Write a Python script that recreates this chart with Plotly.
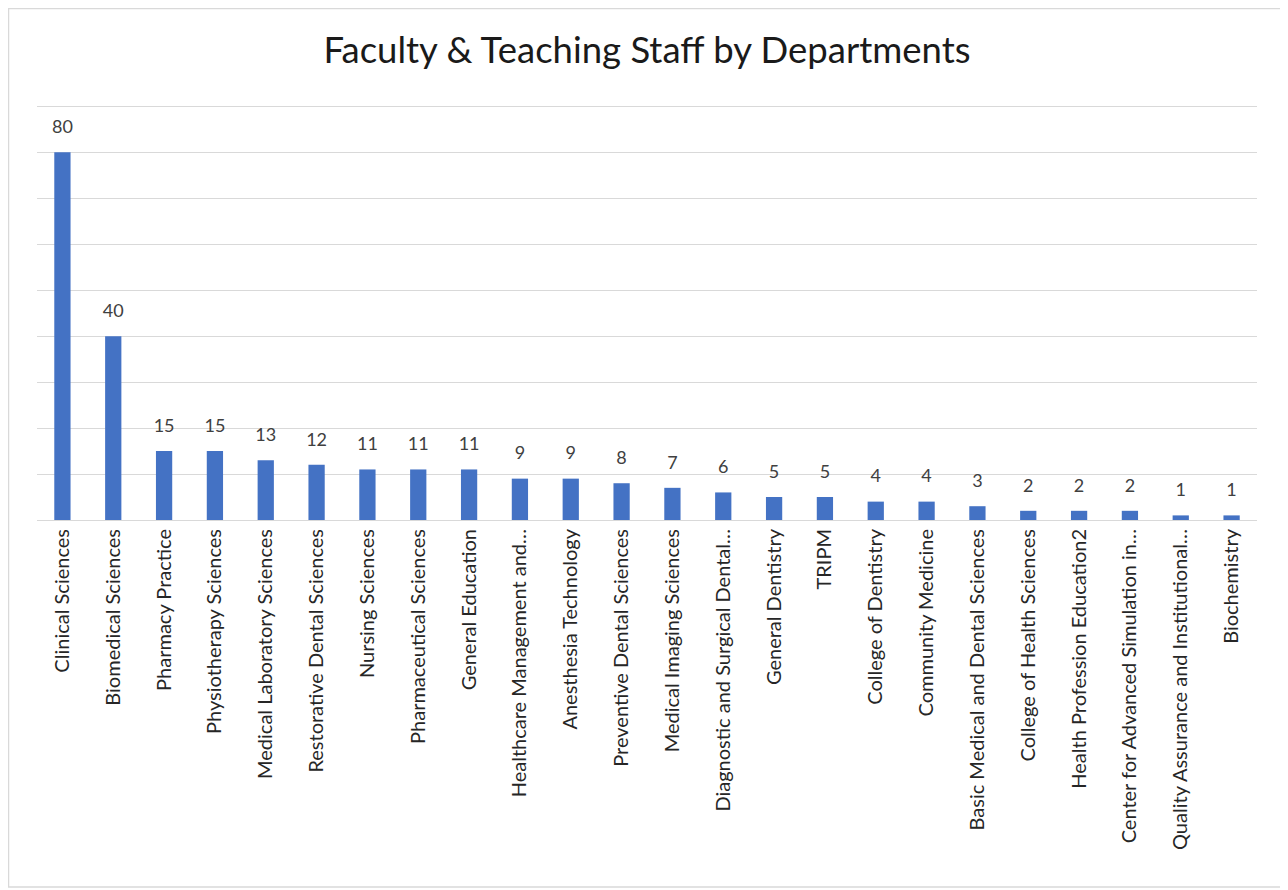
import plotly.graph_objects as go

departments = [
    "Clinical Sciences", "Biomedical Sciences", "Pharmacy Practice", "Physiotherapy Sciences",
    "Medical Laboratory Sciences", "Restorative Dental Sciences", "Nursing Sciences",
    "Pharmaceutical Sciences", "General Education", "Healthcare Management and…",
    "Anesthesia Technology", "Preventive Dental Sciences", "Medical Imaging Sciences",
    "Diagnostic and Surgical Dental…", "General Dentistry", "TRIPM", "College of Dentistry",
    "Community Medicine", "Basic Medical and Dental Sciences", "College of Health Sciences",
    "Health Profession Education2", "Center for Advanced Simulation in…",
    "Quality Assurance and Institutional…", "Biochemistry",
]
staff = [80, 40, 15, 15, 13, 12, 11, 11, 11, 9, 9, 8, 7, 6, 5, 5, 4, 4, 3, 2, 2, 2, 1, 1]

OFF = 8  # page body margin
YMAX = 90.3
W, H = 1288 - OFF, 890 - OFF
plot_right = 1257 - OFF
plot_bottom = 520 - OFF
L = 37 - OFF
T = round(plot_bottom - YMAX * 4.6)
R = W - plot_right
B = H - plot_bottom
pw, ph = W - L - R, H - T - B

FONT = "Lato, 'Open Sans', sans-serif"

fig = go.Figure()
fig.add_trace(go.Bar(
    x=departments, y=staff,
    marker=dict(color="#4472C4", line=dict(width=0)),
    hoverinfo="x+y",
))
fig.add_trace(go.Scatter(
    x=departments, y=staff, mode="markers+text",
    text=[str(v) for v in staff], textposition="top center",
    marker=dict(size=22, color="rgba(0,0,0,0)"),
    textfont=dict(family=FONT, size=18, color="#404040"),
    cliponaxis=False, hoverinfo="skip",
))

fig.update_layout(
    width=W, height=H,
    margin=dict(l=L, r=R, t=T, b=B, autoexpand=False),
    paper_bgcolor="white", plot_bgcolor="white",
    bargap=0.68, showlegend=False,
    title=dict(text="Faculty & Teaching Staff by Departments", x=0.5, xanchor="center",
               xref="paper", y=1 - (50 - OFF) / H, yanchor="middle", yref="container",
               font=dict(family=FONT, size=36.5, color="#1a1a1a")),
    xaxis=dict(tickangle=-90, showgrid=False, showline=True, linecolor="#d9d9d9",
               linewidth=1, ticks="", automargin=False,
               range=[-0.5, len(departments) - 0.5],
               tickfont=dict(family=FONT, size=20, color="#262626")),
    yaxis=dict(range=[0, YMAX], dtick=10, showgrid=True, gridcolor="#d9d9d9", gridwidth=1.2,
               showticklabels=False, zeroline=False, showline=False, automargin=False),
    shapes=[dict(type="rect", xref="paper", yref="paper",
                 x0=(0.5 - L) / pw, x1=(1282 - OFF - L) / pw,
                 y0=(plot_bottom - (887 - OFF)) / ph, y1=(plot_bottom - 0.5) / ph,
                 line=dict(color="#d9d9d9", width=1.5), fillcolor="rgba(0,0,0,0)", layer="below")],
)

fig.write_html("out.html")
